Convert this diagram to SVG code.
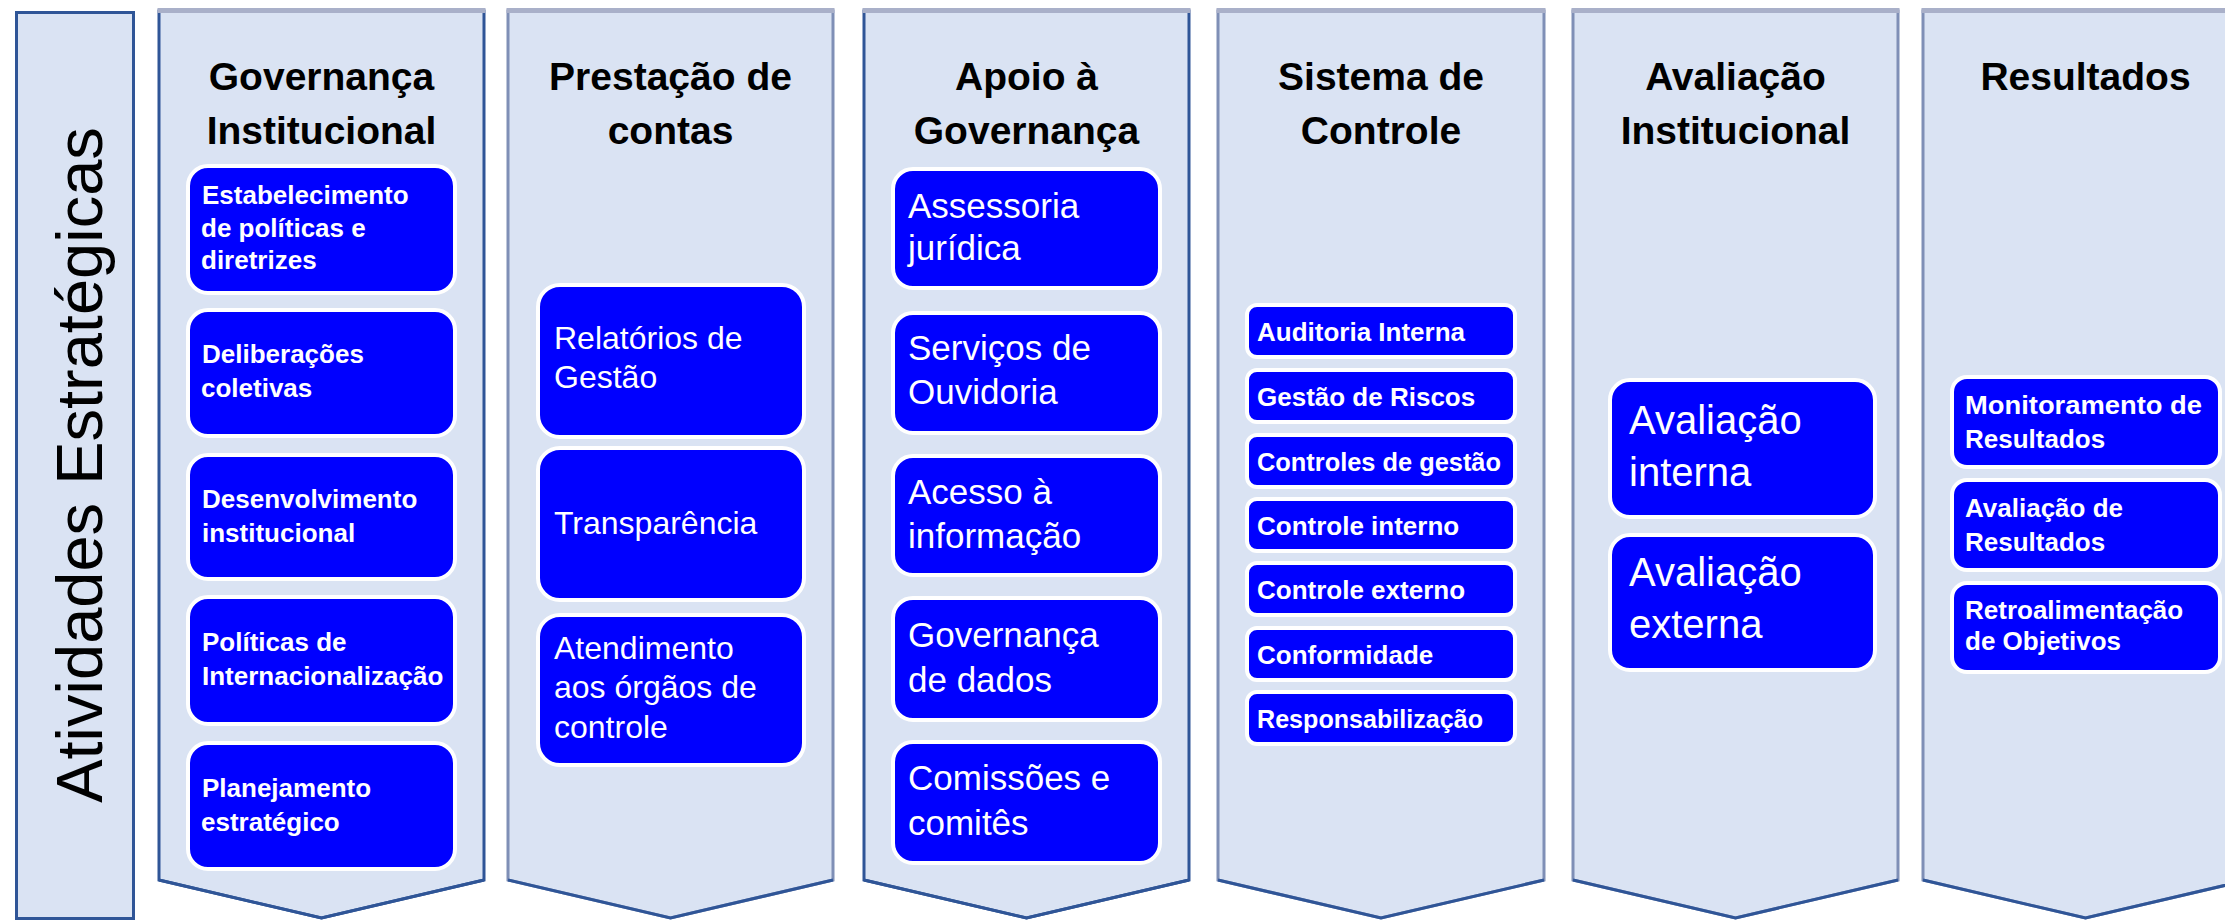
<svg xmlns="http://www.w3.org/2000/svg" width="2225" height="920" viewBox="0 0 2225 920">
<style>
.bg{fill:#ffffff}
.col{fill:#DAE3F3;stroke-width:3;stroke-linejoin:miter}
.dark{stroke:#2F5597}
.light{stroke:#7F8FB6}
.top{stroke:#A9B0C9;stroke-width:5}
.chev{fill:none;stroke:#2F5597;stroke-width:3}
.node{fill:#0000FF;stroke:#ffffff;stroke-width:4}
.h{font-family:"Liberation Sans",Arial,sans-serif;font-weight:bold;font-size:39px;fill:#000;text-anchor:middle}
.title{font-family:"Liberation Sans",Arial,sans-serif;font-size:65px;fill:#000;text-anchor:middle}
.b26{font-family:"Liberation Sans",Arial,sans-serif;font-weight:bold;font-size:26px;fill:#fff}
.r32{font-family:"Liberation Sans",Arial,sans-serif;font-size:32px;fill:#fff}
.r35{font-family:"Liberation Sans",Arial,sans-serif;font-size:35px;fill:#fff}
.r40{font-family:"Liberation Sans",Arial,sans-serif;font-size:40px;fill:#fff}
</style>
<rect class="bg" x="0" y="0" width="2225" height="920"/>

<g id="atividades-estrategicas">
<rect x="16.5" y="12.5" width="117" height="906" fill="#DAE3F3" stroke="#2F5597" stroke-width="3"/>
<text class="title" transform="translate(102,465) rotate(-90)">Atividades Estratégicas</text>
</g>

<g id="col-governanca-institucional">
<path class="col dark" d="M159,11 H484 V880 L321.5,918 L159,880 Z"/>
<line class="top" x1="157.5" y1="10.5" x2="485.5" y2="10.5"/>
<path class="chev" d="M159,880 L321.5,918 L484,880"/>
<text class="h" x="321.5" y="90">Governança</text>
<text class="h" x="321.5" y="144">Institucional</text>
</g>

<g id="col-prestacao-de-contas">
<path class="col light" d="M508,11 H833 V880 L670.5,918 L508,880 Z"/>
<line class="top" x1="506.5" y1="10.5" x2="834.5" y2="10.5"/>
<path class="chev" d="M508,880 L670.5,918 L833,880"/>
<text class="h" x="670.5" y="90">Prestação de</text>
<text class="h" x="670.5" y="144">contas</text>
</g>

<g id="col-apoio-governanca">
<path class="col dark" d="M864,11 H1189 V880 L1026.5,918 L864,880 Z"/>
<line class="top" x1="862.5" y1="10.5" x2="1190.5" y2="10.5"/>
<path class="chev" d="M864,880 L1026.5,918 L1189,880"/>
<text class="h" x="1026.5" y="90">Apoio à</text>
<text class="h" x="1026.5" y="144">Governança</text>
</g>

<g id="col-sistema-de-controle">
<path class="col light" d="M1218,11 H1544 V880 L1381,918 L1218,880 Z"/>
<line class="top" x1="1216.5" y1="10.5" x2="1545.5" y2="10.5"/>
<path class="chev" d="M1218,880 L1381,918 L1544,880"/>
<text class="h" x="1381" y="90">Sistema de</text>
<text class="h" x="1381" y="144">Controle</text>
</g>

<g id="col-avaliacao-institucional">
<path class="col light" d="M1573,11 H1898 V880 L1735.5,918 L1573,880 Z"/>
<line class="top" x1="1571.5" y1="10.5" x2="1899.5" y2="10.5"/>
<path class="chev" d="M1573,880 L1735.5,918 L1898,880"/>
<text class="h" x="1735.5" y="90">Avaliação</text>
<text class="h" x="1735.5" y="144">Institucional</text>
</g>

<g id="col-resultados">
<path class="col light" d="M1923,11 H2248 V880 L2085.5,918 L1923,880 Z"/>
<line class="top" x1="1921.5" y1="10.5" x2="2249.5" y2="10.5"/>
<path class="chev" d="M1923,880 L2085.5,918 L2248,880"/>
<text class="h" x="2085.5" y="90">Resultados</text>
</g>

<!-- Governança Institucional nodes -->
<g id="n-estabelecimento">
<rect class="node" x="188" y="166" width="267" height="127" rx="20"/>
<text class="b26" x="202" y="204">Estabelecimento</text>
<text class="b26" x="201" y="237">de políticas e</text>
<text class="b26" x="201" y="269">diretrizes</text>
</g>
<g id="n-deliberacoes">
<rect class="node" x="188" y="310" width="267" height="126" rx="20"/>
<text class="b26" x="202" y="363">Deliberações</text>
<text class="b26" x="201" y="397">coletivas</text>
</g>
<g id="n-desenvolvimento">
<rect class="node" x="188" y="455" width="267" height="124" rx="20"/>
<text class="b26" x="202" y="508">Desenvolvimento</text>
<text class="b26" x="202" y="542">institucional</text>
</g>
<g id="n-internacionalizacao">
<rect class="node" x="188" y="597" width="267" height="127" rx="20"/>
<text class="b26" x="202" y="651">Políticas de</text>
<text class="b26" x="202" y="685">Internacionalização</text>
</g>
<g id="n-planejamento">
<rect class="node" x="188" y="743" width="267" height="126" rx="20"/>
<text class="b26" x="202" y="797">Planejamento</text>
<text class="b26" x="201" y="831">estratégico</text>
</g>

<!-- Prestação de contas nodes -->
<g id="n-relatorios">
<rect class="node" x="538" y="285" width="266" height="152" rx="22"/>
<text class="r32" x="554" y="349">Relatórios de</text>
<text class="r32" x="554" y="388">Gestão</text>
</g>
<g id="n-transparencia">
<rect class="node" x="538" y="448" width="266" height="152" rx="22"/>
<text class="r32" x="554" y="534">Transparência</text>
</g>
<g id="n-atendimento">
<rect class="node" x="538" y="615" width="266" height="150" rx="22"/>
<text class="r32" x="554" y="659">Atendimento</text>
<text class="r32" x="554" y="698">aos órgãos de</text>
<text class="r32" x="554" y="738">controle</text>
</g>

<!-- Apoio à Governança nodes -->
<g id="n-assessoria">
<rect class="node" x="893" y="169" width="267" height="119" rx="20"/>
<text class="r35" x="908" y="218">Assessoria</text>
<text class="r35" x="908" y="260">jurídica</text>
</g>
<g id="n-ouvidoria">
<rect class="node" x="893" y="313" width="267" height="120" rx="20"/>
<text class="r35" x="908" y="360">Serviços de</text>
<text class="r35" x="908" y="404">Ouvidoria</text>
</g>
<g id="n-acesso">
<rect class="node" x="893" y="456" width="267" height="119" rx="20"/>
<text class="r35" x="908" y="504">Acesso à</text>
<text class="r35" x="908" y="548">informação</text>
</g>
<g id="n-governanca-dados">
<rect class="node" x="893" y="598" width="267" height="122" rx="20"/>
<text class="r35" x="908" y="647">Governança</text>
<text class="r35" x="908" y="692">de dados</text>
</g>
<g id="n-comissoes">
<rect class="node" x="893" y="742" width="267" height="121" rx="20"/>
<text class="r35" x="908" y="790">Comissões e</text>
<text class="r35" x="908" y="835">comitês</text>
</g>

<!-- Sistema de Controle nodes -->
<g id="n-auditoria">
<rect class="node" x="1247" y="305" width="268" height="52" rx="10"/>
<text class="b26" x="1257" y="341">Auditoria Interna</text>
</g>
<g id="n-riscos">
<rect class="node" x="1247" y="370" width="268" height="52" rx="10"/>
<text class="b26" x="1257" y="406">Gestão de Riscos</text>
</g>
<g id="n-controles-gestao">
<rect class="node" x="1247" y="435" width="268" height="52" rx="10"/>
<text class="b26" x="1257" y="471" textLength="244" lengthAdjust="spacingAndGlyphs">Controles de gestão</text>
</g>
<g id="n-controle-interno">
<rect class="node" x="1247" y="499" width="268" height="52" rx="10"/>
<text class="b26" x="1257" y="535">Controle interno</text>
</g>
<g id="n-controle-externo">
<rect class="node" x="1247" y="563" width="268" height="52" rx="10"/>
<text class="b26" x="1257" y="599">Controle externo</text>
</g>
<g id="n-conformidade">
<rect class="node" x="1247" y="628" width="268" height="52" rx="10"/>
<text class="b26" x="1257" y="664">Conformidade</text>
</g>
<g id="n-responsabilizacao">
<rect class="node" x="1247" y="692" width="268" height="52" rx="10"/>
<text class="b26" x="1257" y="728" textLength="226" lengthAdjust="spacingAndGlyphs">Responsabilização</text>
</g>

<!-- Avaliação Institucional nodes -->
<g id="n-avaliacao-interna">
<rect class="node" x="1610" y="380" width="265" height="137" rx="20"/>
<text class="r40" x="1629" y="434">Avaliação</text>
<text class="r40" x="1629" y="486">interna</text>
</g>
<g id="n-avaliacao-externa">
<rect class="node" x="1610" y="535" width="265" height="135" rx="20"/>
<text class="r40" x="1629" y="586">Avaliação</text>
<text class="r40" x="1629" y="638">externa</text>
</g>

<!-- Resultados nodes -->
<g id="n-monitoramento">
<rect class="node" x="1952" y="377" width="268" height="90" rx="15"/>
<text class="b26" x="1965" y="414" textLength="237" lengthAdjust="spacingAndGlyphs">Monitoramento de</text>
<text class="b26" x="1965" y="448">Resultados</text>
</g>
<g id="n-avaliacao-resultados">
<rect class="node" x="1952" y="480" width="268" height="90" rx="15"/>
<text class="b26" x="1965" y="517">Avaliação de</text>
<text class="b26" x="1965" y="551">Resultados</text>
</g>
<g id="n-retroalimentacao">
<rect class="node" x="1952" y="583" width="268" height="89" rx="15"/>
<text class="b26" x="1965" y="619">Retroalimentação</text>
<text class="b26" x="1965" y="650">de Objetivos</text>
</g>

<g id="connectors"/>
</svg>
